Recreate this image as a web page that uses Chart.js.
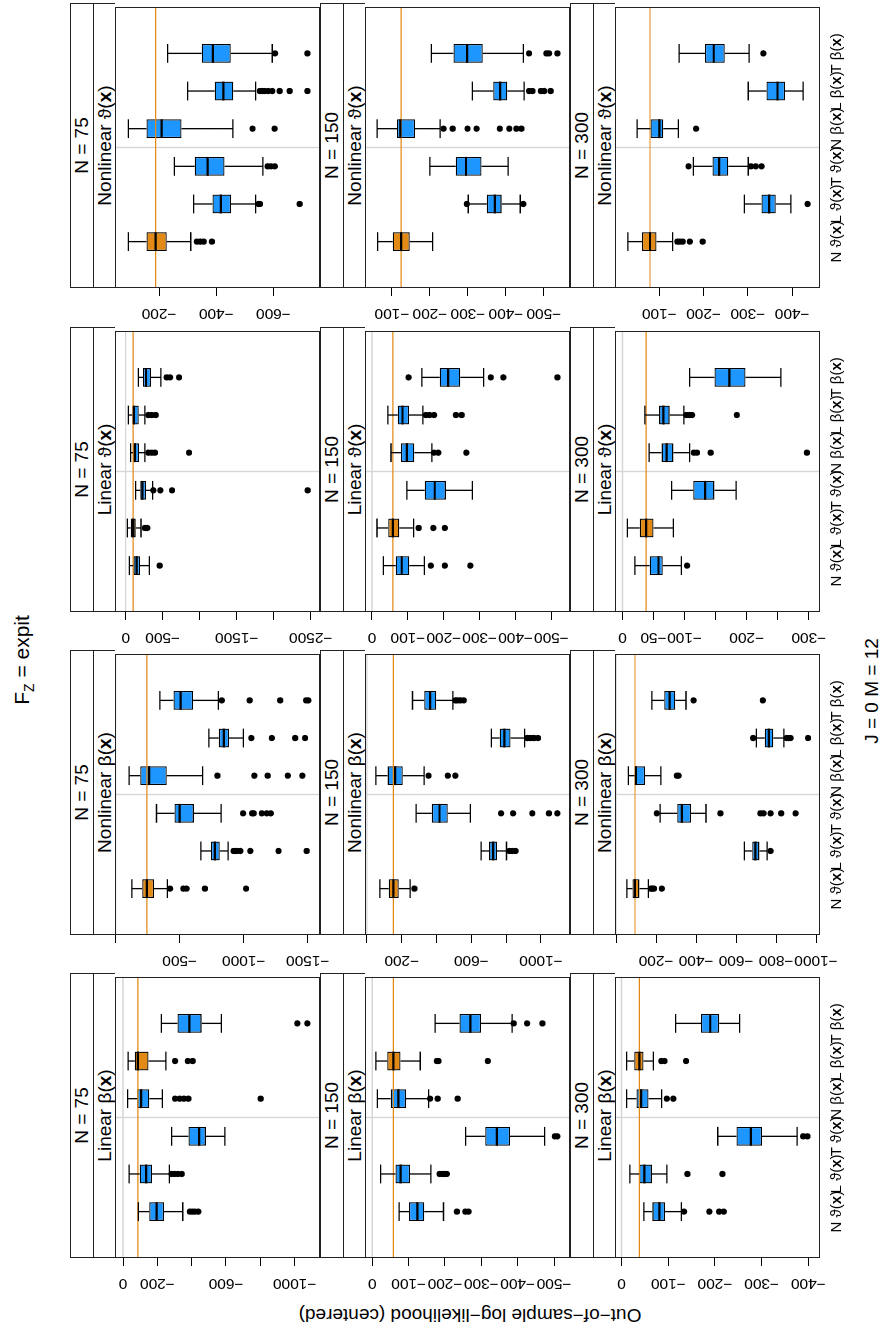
<!DOCTYPE html>
<html>
<head>
<meta charset="utf-8">
<script src="https://cdn.jsdelivr.net/npm/chart.js"></script>
<style>
html, body { margin: 0; padding: 0; overflow: hidden; background: #fff; width: 882px; height: 1328px; }
/* the figure is laid out in landscape and turned a quarter counter-clockwise */
#page { position: absolute; left: 0; top: 0; width: 1328px; height: 882px; transform-origin: 0 0;
        transform: translateY(1328px) rotate(-90deg);
        font-family: "Liberation Sans", Arial, "DejaVu Sans", sans-serif; color: #000; }
#page canvas { position: absolute; }
.strip { position: absolute; width: 285px; height: 45px; box-sizing: border-box;
         border: 1px solid #222; border-bottom: none; background: #fff; }
.s1 { height: 22px; line-height: 22px; border-bottom: 1px solid #222; text-align: center; font-size: 19px; }
.s2 { height: 21px; line-height: 21px; text-align: center; font-size: 19px; }
.lab { position: absolute; text-align: center; white-space: nowrap; }
</style>
</head>
<body>
<div id="page">
  <div class="lab" style="left:468px; top:9px; width:400px; font-size:21px; line-height:26px;">F<sub style="font-size:14px">Z</sub> = expit</div>
  <div class="lab" style="left:-187px; top:459px; width:400px; height:22px; font-size:19px; line-height:22px; transform:rotate(-90deg);">Out−of−sample log−likelihood (centered)</div>
  <div class="lab" style="left:487px; top:861px; width:300px; font-size:19px; line-height:22px;">J = 0 M = 12</div>
</div>
<script>
// panels: rows N = 75, 150, 300; columns Linear β, Nonlinear β, Linear ϑ, Nonlinear ϑ
const panelTypes = ['Linear', 'Nonlinear', 'Linear', 'Nonlinear'];
const panelSymbols = ['β', 'β', 'ϑ', 'ϑ'];
const sampleSizes = [75, 150, 300];
const boxPrefix = ['N', 'L', 'T', 'N', 'L', 'T'];
const boxSymbol = ['ϑ', 'ϑ', 'ϑ', 'β', 'β', 'β'];
const highlightBox = [4, 0, 1, 0];

// one row per panel, order: N=75 (LinB, NonB, LinT, NonT), N=150 (...), N=300 (...)
const upperWhisker = [
  [-89, -35, -283, -27, -29, -223], [-127, -666, -319, -106, -728, -345],
  [-50, -23, -135, -68, -36, -171], [-93, -321, -254, -93, -300, -230],
  [-74, -23, -257, -14, -10, -173], [-75, -656, -283, -52, -715, -262],
  [-32, -14, -97, -53, -44, -139], [-62, -301, -200, -61, -312, -204],
  [-48, -18, -206, -11, -11, -116], [-54, -642, -221, -62, -702, -179],
  [-20, -8, -79, -43, -36, -108], [-29, -292, -177, -50, -301, -145]
];
const upperQuartile = [
  [-153, -97, -381, -82, -68, -317], [-207, -744, -459, -192, -806, -451],
  [-104, -68, -198, -99, -90, -234], [-156, -387, -325, -156, -395, -349],
  [-101, -64, -311, -51, -41, -240], [-125, -702, -373, -119, -763, -329],
  [-66, -45, -147, -81, -72, -189], [-102, -350, -268, -113, -367, -262],
  [-66, -38, -246, -32, -27, -170], [-82, -681, -306, -92, -744, -241],
  [-44, -28, -114, -63, -59, -148], [-61, -331, -220, -80, -342, -203]
];
const medians = [
  [-196, -134, -443, -105, -86, -386], [-244, -775, -500, -262, -845, -508],
  [-149, -100, -225, -126, -113, -275], [-188, -416, -370, -209, -425, -388],
  [-124, -78, -343, -72, -58, -270], [-152, -725, -417, -162, -790, -363],
  [-83, -58, -175, -97, -85, -212], [-124, -371, -295, -122, -385, -298],
  [-81, -49, -277, -42, -38, -190], [-95, -697, -329, -100, -764, -268],
  [-58, -38, -133, -71, -66, -172], [-79, -348, -235, -100, -367, -223]
];
const lowerQuartile = [
  [-239, -169, -483, -153, -148, -458], [-300, -813, -611, -399, -886, -604],
  [-194, -135, -275, -180, -176, -342], [-227, -452, -429, -279, -460, -451],
  [-143, -104, -379, -93, -78, -299], [-183, -748, -465, -206, -825, -398],
  [-104, -76, -206, -118, -103, -246], [-147, -389, -336, -161, -404, -339],
  [-93, -65, -301, -58, -47, -209], [-117, -717, -375, -145, -786, -296],
  [-65, -50, -148, -82, -76, -198], [-94, -363, -256, -109, -384, -248]
];
const lowerWhisker = [
  [-348, -270, -594, -229, -250, -573], [-404, -878, -824, -679, -997, -803],
  [-320, -207, -365, -261, -261, -477], [-311, -538, -563, -458, -538, -596],
  [-196, -161, -474, -155, -132, -385], [-248, -802, -594, -329, -906, -494],
  [-146, -116, -280, -167, -142, -311], [-207, -438, -406, -227, -448, -446],
  [-128, -97, -376, -86, -68, -253], [-162, -756, -450, -224, -839, -350],
  [-95, -82, -183, -108, -99, -255], [-130, -397, -301, -143, -425, -303]
];
const outliers = [
  [[-390, -405, -420, -439], [-283, -300, -320, -342], [], [-303, -330, -355, -381, -802], [-303, -377, -406], [-1016, -1074]],
  [[-425, -528, -554, -697, -1018], [-922, -935, -948, -974, -1052, -1272, -1492], [-995, -1065, -1078, -1142, -1181, -1212], [-795, -1083, -1187, -1345, -1458], [-1060, -1220, -1402, -1479], [-829, -1047, -1285, -1487, -1505]],
  [[-459], [-261, -293], [-374, -468, -626, -2459], [-306, -351, -396, -856], [-306, -351, -405], [-554, -600, -721]],
  [[-332, -344, -356, -385], [-548, -553, -692], [-580, -592, -605], [-527, -604], [-553, -562, -570, -582, -596, -622, -657, -719], [-606, -719]],
  [[-233, -256, -265], [-185, -192, -198, -205], [-502, -509], [-159, -180, -235], [-178, -182, -318], [-389, -426, -468]],
  [[-273], [-819, -835, -854], [-771, -840, -950, -1046, -1094], [-354, -465, -508], [-921, -935, -948, -962, -983], [-508, -521, -537, -556]],
  [[-164, -203, -274], [-130, -171, -203], [], [-173, -185, -263], [-150, -160, -173, -234, -250], [-102, -331, -366, -517]],
  [[], [-297, -446], [], [-236, -260, -299, -323, -384, -409, -428, -441], [-461, -470, -492, -501, -518], [-461, -507, -514, -536]],
  [[-134, -188, -209, -219], [-141, -216], [-389, -398], [-97, -111], [-85, -92, -138], []],
  [[-174, -182, -190, -229], [-773], [-204, -522, -722, -738, -773, -826, -898], [-304, -313], [-686, -853, -863, -873, -960], [-388, -734]],
  [[-104], [], [], [-115, -120, -142, -297], [-103, -108, -112, -184], []],
  [[-141, -147, -153, -169, -198], [-435], [-166, -307, -318, -331], [-183], [], [-335]]
];
const yRanges = [
  [-1148, 47], [-1596, 5], [-2626, 144], [-763, -46],
  [-544, 20], [-1167, 11], [-552, 19.5], [-569, -29],
  [-425, 14], [-1020, 5], [-318, 12], [-463, 0]
];
const yTicks = [
  [0, -200, -400, -600, -800, -1000], [0, -500, -1000, -1500], [0, -500, -1000, -1500, -2000, -2500], [-200, -400, -600],
  [0, -100, -200, -300, -400, -500], [0, -200, -400, -600, -800, -1000], [0, -100, -200, -300, -400, -500], [-100, -200, -300, -400, -500],
  [0, -100, -200, -300, -400], [0, -200, -400, -600, -800, -1000], [0, -50, -100, -150, -200, -250, -300], [-100, -200, -300, -400]
];
const yTickLabels = [
  ['0', '−200', '', '−600', '', '−1000'], ['', '−500', '−1000', '−1500'], ['0', '−500', '', '−1500', '', '−2500'], ['−200', '−400', '−600'],
  ['0', '−100', '−200', '−300', '−400', '−500'], ['', '−200', '', '−600', '', '−1000'], ['0', '−100', '−200', '−300', '−400', '−500'], ['−100', '−200', '−300', '−400', '−500'],
  ['0', '−100', '−200', '−300', '−400'], ['', '−200', '−400', '−600', '−800', '−1000'], ['0', '−50', '−100', '', '−200', '', '−300'], ['−100', '−200', '−300', '−400']
];

const BLUE = '#1E96FF';
const ORANGE = '#E38A16';
const FONT = '"Liberation Sans", Arial, "DejaVu Sans", sans-serif';
const colLeft = [70, 393, 716, 1040];
const rowTop = [70, 320, 570];
const PANEL_W = 285, PLOT_H = 205, STRIP_H = 45, AXIS_W = 38, PAD = 25, LAB_H = 40;

function panelPlugin(p, r) {
  return {
    id: 'rPanel' + p,
    afterDatasetsDraw(chart) {
      const {ctx, chartArea: a, scales: {x, y}} = chart;
      const bars = chart.getDatasetMeta(0).data;
      const ref = medians[p][highlightBox[p % 4]];
      ctx.save();
      ctx.beginPath();
      ctx.rect(a.left, a.top, a.right - a.left, a.bottom - a.top);
      ctx.clip();
      ctx.strokeStyle = '#d6d6d6';
      ctx.lineWidth = 1.4;
      ctx.beginPath();
      if (y.min <= 0 && y.max >= 0) {
        const y0 = y.getPixelForValue(0);
        ctx.moveTo(a.left, y0); ctx.lineTo(a.right, y0);
      }
      const xd = x.getPixelForValue(3.5);
      ctx.moveTo(xd, a.top); ctx.lineTo(xd, a.bottom);
      ctx.stroke();
      ctx.strokeStyle = ORANGE;
      ctx.lineWidth = 1.2;
      ctx.beginPath();
      const yr = y.getPixelForValue(ref);
      ctx.moveTo(a.left, yr); ctx.lineTo(a.right, yr);
      ctx.stroke();
      ctx.restore();

      ctx.save();
      ctx.strokeStyle = '#000';
      ctx.lineWidth = 1.3;
      ctx.beginPath();
      bars.forEach((bar, k) => {
        const cx = bar.x, hw = bar.width / 2;
        const yh = y.getPixelForValue(upperWhisker[p][k]);
        const y3 = y.getPixelForValue(upperQuartile[p][k]);
        const y1 = y.getPixelForValue(lowerQuartile[p][k]);
        const yl = y.getPixelForValue(lowerWhisker[p][k]);
        ctx.moveTo(cx, yh); ctx.lineTo(cx, y3);
        ctx.moveTo(cx, y1); ctx.lineTo(cx, yl);
        ctx.moveTo(cx - hw, yh); ctx.lineTo(cx + hw, yh);
        ctx.moveTo(cx - hw, yl); ctx.lineTo(cx + hw, yl);
      });
      ctx.stroke();
      ctx.lineWidth = 2.2;
      ctx.beginPath();
      bars.forEach((bar, k) => {
        const ym = y.getPixelForValue(medians[p][k]);
        ctx.moveTo(bar.x - bar.width / 2, ym); ctx.lineTo(bar.x + bar.width / 2, ym);
      });
      ctx.stroke();
      ctx.lineWidth = 1;
      ctx.strokeStyle = '#222';
      ctx.strokeRect(a.left + 0.5, a.top + 0.5, a.right - a.left - 1, a.bottom - a.top - 1);
      ctx.restore();
    },
    afterDraw(chart) {
      const {ctx, chartArea: a, scales: {y}} = chart;
      ctx.save();
      ctx.fillStyle = '#000';
      ctx.font = '15.5px ' + FONT;
      ctx.textAlign = 'center';
      ctx.textBaseline = 'middle';
      yTicks[p].forEach((v, i) => {
        const lab = yTickLabels[p][i];
        if (!lab) return;
        ctx.save();
        ctx.translate(a.left - 25, y.getPixelForValue(v));
        ctx.rotate(-Math.PI / 2);
        ctx.fillText(lab, 0, 0);
        ctx.restore();
      });
      if (r === 2) {
        const norm = '15px ' + FONT, bold = 'bold 15px ' + FONT;
        ctx.textAlign = 'left';
        chart.getDatasetMeta(0).data.forEach((bar, k) => {
          const parts = [[boxPrefix[k] + ' ' + boxSymbol[k] + '(', norm], ['x', bold], [')', norm]];
          let total = 0;
          parts.forEach(([t, f]) => { ctx.font = f; total += ctx.measureText(t).width; });
          let xx = bar.x - total / 2;
          parts.forEach(([t, f]) => {
            ctx.font = f;
            ctx.fillText(t, xx, a.bottom + 17);
            xx += ctx.measureText(t).width;
          });
        });
      }
      ctx.restore();
    }
  };
}

const page = document.getElementById('page');
for (let r = 0; r < 3; r++) {
  for (let c = 0; c < 4; c++) {
    const strip = document.createElement('div');
    strip.className = 'strip';
    strip.style.left = colLeft[c] + 'px';
    strip.style.top = rowTop[r] + 'px';
    strip.innerHTML = '<div class="s1">N = ' + sampleSizes[r] + '</div>' +
      '<div class="s2">' + panelTypes[c] + ' ' + panelSymbols[c] + '(<b>x</b>)</div>';
    page.appendChild(strip);
  }
}
for (let r = 0; r < 3; r++) {
  for (let c = 0; c < 4; c++) {
    const p = r * 4 + c;
    const cv = document.createElement('canvas');
    const below = r === 2 ? LAB_H : PAD;
    cv.width = AXIS_W + PANEL_W;
    cv.height = PAD + PLOT_H + below;
    cv.style.left = (colLeft[c] - AXIS_W) + 'px';
    cv.style.top = (rowTop[r] + STRIP_H - PAD) + 'px';
    cv.style.width = cv.width + 'px';
    cv.style.height = cv.height + 'px';
    page.appendChild(cv);

    const hl = highlightBox[c];
    new Chart(cv, {
      type: 'bar',
      data: {
        datasets: [
          {
            type: 'bar',
            data: medians[p].map((m, k) => ({x: k + 1, y: [lowerQuartile[p][k], upperQuartile[p][k]]})),
            backgroundColor: medians[p].map((m, k) => k === hl ? ORANGE : BLUE),
            borderColor: '#000',
            borderWidth: 1.3,
            borderSkipped: false,
            barPercentage: 0.5,
            categoryPercentage: 1
          },
          {
            type: 'scatter',
            data: outliers[p].flatMap((arr, k) => arr.map(v => ({x: k + 1, y: v}))),
            backgroundColor: '#000',
            borderWidth: 0,
            pointRadius: 3.1
          }
        ]
      },
      options: {
        responsive: false,
        animation: false,
        events: [],
        layout: {padding: {left: 0, right: 0, top: PAD, bottom: below}},
        plugins: {legend: {display: false}, tooltip: {enabled: false}},
        scales: {
          x: {
            type: 'linear', min: 0.39, max: 6.61, bounds: 'data', display: false,
            afterBuildTicks: s => { s.ticks = boxPrefix.map((b, k) => ({value: k + 1})); }
          },
          y: {
            type: 'linear', position: 'left', bounds: 'data',
            min: yRanges[p][0], max: yRanges[p][1],
            afterBuildTicks: s => { s.ticks = yTicks[p].map(v => ({value: v})); },
            afterFit: s => { s.width = AXIS_W; },
            grid: {drawOnChartArea: false, drawTicks: true, tickLength: 8, color: '#000', lineWidth: 1},
            border: {display: false},
            ticks: {display: false}
          }
        }
      },
      plugins: [panelPlugin(p, r)]
    });
  }
}
</script>
</body>
</html>
